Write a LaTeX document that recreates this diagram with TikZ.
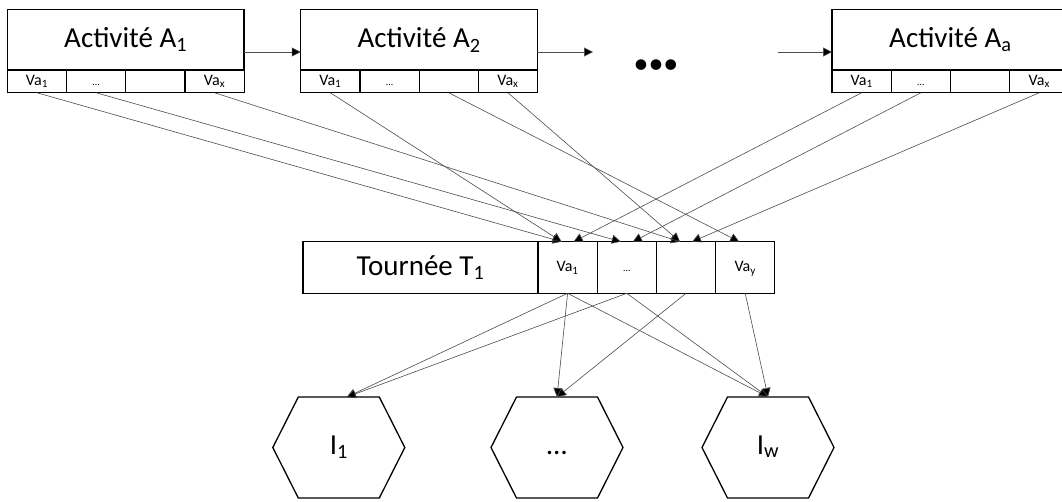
\documentclass[tikz,border=0pt]{standalone}
\usepackage{fontspec}
\setmainfont{Carlito}
\usetikzlibrary{positioning,arrows.meta}

\tikzset{
  head/.style={draw, line width=1.3pt, minimum width=236.7pt, minimum height=60.7pt,
    inner sep=0pt, outer sep=0pt, font=\fontsize{29}{30}\selectfont},
  cell/.style={draw, line width=1.3pt, minimum width=59.2pt, minimum height=22.7pt,
    inner sep=0pt, outer sep=0pt, text height=11pt, text depth=3pt, font=\fontsize{16}{17}\selectfont},
  small dots/.style={font=\fontsize{10}{10}\selectfont},
  hexa/.style={minimum width=132pt, minimum height=101pt, inner sep=0pt, outer sep=0pt,
    text height=19pt, text depth=6pt, font=\fontsize{29}{30}\selectfont},
  link/.style={line width=0.6pt, draw=black!70, -{Triangle[length=9pt,width=9pt,fill=black]}}
}

\begin{document}
\begin{tikzpicture}[x=1pt,y=-1pt]
    \useasboundingbox (0,0) rectangle (1062,501);
    % activites
    \node[head] (act1) at (125.7,39.7) {Activité A\textsubscript{1}};
    \node[cell, below right=0pt of act1.south west] (a1c1) {Va\textsubscript{1}};
    \node[cell, small dots, right=0pt of a1c1] (a1c2) {…};
    \node[cell, right=0pt of a1c2] (a1c3) {};
    \node[cell, right=0pt of a1c3] (a1c4) {Va\textsubscript{x}};
    \node[head] (act2) at (419.1,39.7) {Activité A\textsubscript{2}};
    \node[cell, below right=0pt of act2.south west] (a2c1) {Va\textsubscript{1}};
    \node[cell, small dots, right=0pt of a2c1] (a2c2) {…};
    \node[cell, right=0pt of a2c2] (a2c3) {};
    \node[cell, right=0pt of a2c3] (a2c4) {Va\textsubscript{x}};
    \node[head] (acta) at (950.4,39.7) {Activité A\textsubscript{a}};
    \node[cell, below right=0pt of acta.south west] (aac1) {Va\textsubscript{1}};
    \node[cell, small dots, right=0pt of aac1] (aac2) {…};
    \node[cell, right=0pt of aac2] (aac3) {};
    \node[cell, right=0pt of aac3] (aac4) {Va\textsubscript{x}};
    \draw[link] ([yshift=-12.3pt]act1.east) -- ([yshift=-12.3pt]act2.west);
    \coordinate (gap1) at (593,52);
    \coordinate (gap2) at (778,52);
    \draw[link] ([yshift=-12.3pt]act2.east) -- (gap1);
    \draw[link] (gap2) -- ([yshift=-12.3pt]acta.west);
    \node[font=\fontsize{30}{30}\selectfont] (dots) at (656,67) {\textbullet\textbullet\textbullet};
    % tournee
    \node[head, minimum width=235pt, minimum height=51.6pt] (tour) at (420.5,267.5) {Tournée T\textsubscript{1}};
    \node[cell, minimum height=51.6pt, right=0pt of tour] (t1) {Va\textsubscript{1}};
    \node[cell, small dots, minimum height=51.6pt, right=0pt of t1] (t2) {…};
    \node[cell, minimum height=51.6pt, right=0pt of t2] (t3) {};
    \node[cell, minimum height=51.6pt, right=0pt of t3] (t4) {Va\textsubscript{y}};
    % indicateurs
    \node[hexa] (i1) at (338.8,447.5) {I\textsubscript{1}};
    \node[hexa] (i2) at (557,447.5) {…};
    \node[hexa] (i3) at (768,447.5) {I\textsubscript{w}};
    \foreach \h in {i1,i2,i3}
        \draw[line width=1.3pt] (\h.west) -- ([xshift=25.5pt]\h.north west) -- ([xshift=-25.5pt]\h.north east)
            -- (\h.east) -- ([xshift=-25.5pt]\h.south east) -- ([xshift=25.5pt]\h.south west) -- cycle;
    % liens activites -> tournee
    \draw[link] (a1c1.south) -- ([xshift=-6pt]t1.north);
    \draw[link] (a1c2.south) -- ([xshift=-6pt]t2.north);
    \draw[link] (a1c4.south) -- ([xshift=-6pt]t3.north);
    \draw[link] (a2c1.south) -- ([xshift=-6pt]t1.north);
    \draw[link] (a2c3.south) -- ([xshift=-6pt]t4.north);
    \draw[link] (a2c4.south) -- ([xshift=-6pt]t3.north);
    \draw[link] (aac1.south) -- ([xshift=6pt]t1.north);
    \draw[link] (aac2.south) -- ([xshift=6pt]t2.north);
    \draw[link] (aac4.south) -- ([xshift=6pt]t3.north);
    % liens tournee -> indicateurs
    \draw[link] (t1.south) -- ([xshift=8pt]i1.north);
    \draw[link] (t1.south) -- (i2.north);
    \draw[link] (t1.south) -- (i3.north);
    \draw[link] (t2.south) -- ([xshift=8pt]i1.north);
    \draw[link] (t2.south) -- (i3.north);
    \draw[link] (t3.south) -- (i2.north);
    \draw[link] (t4.south) -- (i3.north);
\end{tikzpicture}
\end{document}
